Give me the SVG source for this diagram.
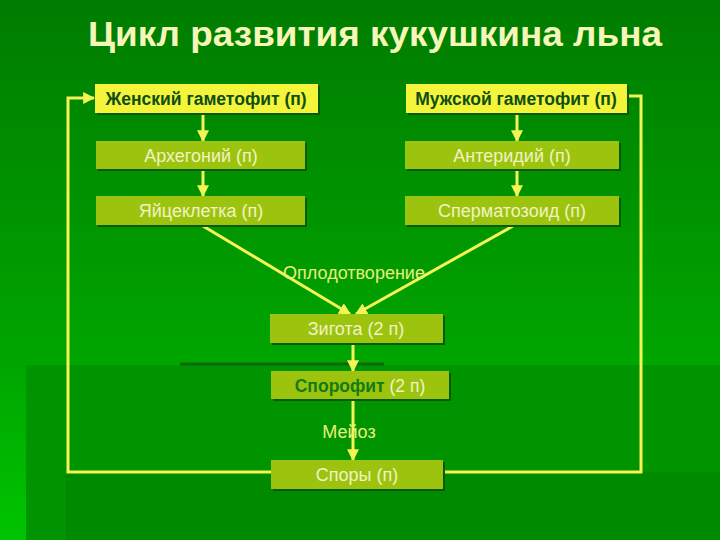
<svg xmlns="http://www.w3.org/2000/svg" width="720" height="540" viewBox="0 0 720 540">
<defs>
<linearGradient id="bg" x1="0" y1="0" x2="0" y2="1">
<stop offset="0" stop-color="#007c00"/>
<stop offset="0.68" stop-color="#00a600"/>
<stop offset="1" stop-color="#00c400"/>
</linearGradient>
<marker id="ah" viewBox="0 0 10 10" refX="9" refY="5" markerWidth="4" markerHeight="4" orient="auto" markerUnits="strokeWidth">
<path d="M0,0 L10,5 L0,10 z" fill="#f4f455"/>
</marker>
</defs>
<style>
.shadow{fill:#0a5a0a;}
.y{fill:#f4f43a;}
.o{fill:#9cc40e;}
.tb{font-family:"Liberation Sans",Arial,sans-serif;font-size:17.5px;font-weight:bold;fill:#0e4e12;text-anchor:middle;}
.tl{font-family:"Liberation Sans",Arial,sans-serif;font-size:18px;fill:#f2f2c4;text-anchor:middle;}
.lab{font-family:"Liberation Sans",Arial,sans-serif;font-size:18px;fill:#e6f07a;text-anchor:middle;}
.c{stroke:#f4f455;stroke-width:3;fill:none;}
</style>
<rect x="0" y="0" width="720" height="540" fill="url(#bg)"/>
<rect x="26" y="365" width="694" height="175" fill="#009400"/>
<rect x="66" y="472" width="654" height="68" fill="#008a00"/>
<line x1="180" y1="364" x2="384" y2="364" stroke="#0a6a0a" stroke-width="3"/>
<text x="375" y="46" font-family="'Liberation Sans',Arial,sans-serif" font-size="35" font-weight="bold" fill="#f6f6b8" text-anchor="middle" textLength="574" lengthAdjust="spacingAndGlyphs">Цикл развития кукушкина льна</text>
<g id="connectors">
<polyline class="c" points="272,472 68,472 68,98 94,98" marker-end="url(#ah)"/>
<polyline class="c" points="444,472 641,472 641,96 627,96"/>
<line class="c" x1="203" y1="113" x2="203" y2="141" marker-end="url(#ah)"/>
<line class="c" x1="203" y1="169" x2="203" y2="196" marker-end="url(#ah)"/>
<line class="c" x1="517" y1="113" x2="517" y2="141" marker-end="url(#ah)"/>
<line class="c" x1="517" y1="169" x2="517" y2="196" marker-end="url(#ah)"/>
<line class="c" x1="203" y1="226" x2="350" y2="314" marker-end="url(#ah)"/>
<line class="c" x1="513" y1="226" x2="356" y2="314" marker-end="url(#ah)"/>
<line class="c" x1="353" y1="343" x2="353" y2="371" marker-end="url(#ah)"/>
<line class="c" x1="353" y1="400" x2="353" y2="460" marker-end="url(#ah)"/>
</g>
<g id="lbl-oplod"><text class="lab" x="354" y="279">Оплодотворение</text></g>
<g id="lbl-meioz"><text class="lab" x="349" y="438">Мейоз</text></g>
<g id="n-female">
<rect class="shadow" x="97" y="86" width="223" height="29"/>
<rect class="y" x="95" y="84" width="223" height="29"/>
<text class="tb" x="206" y="105">Женский гаметофит (п)</text>
</g>
<g id="n-male">
<rect class="shadow" x="408" y="86" width="221" height="29"/>
<rect class="y" x="406" y="84" width="221" height="29"/>
<text class="tb" x="516" y="105">Мужской гаметофит (п)</text>
</g>
<g id="n-arch">
<rect class="shadow" x="98" y="143" width="209" height="28"/>
<rect class="o" x="96" y="141" width="209" height="28"/>
<text class="tl" x="201" y="162">Архегоний (п)</text>
</g>
<g id="n-anther">
<rect class="shadow" x="407" y="143" width="214" height="28"/>
<rect class="o" x="405" y="141" width="214" height="28"/>
<text class="tl" x="512" y="162">Антеридий (п)</text>
</g>
<g id="n-egg">
<rect class="shadow" x="98" y="198" width="209" height="29"/>
<rect class="o" x="96" y="196" width="209" height="29"/>
<text class="tl" x="201" y="217">Яйцеклетка (п)</text>
</g>
<g id="n-sperm">
<rect class="shadow" x="407" y="198" width="214" height="29"/>
<rect class="o" x="405" y="196" width="214" height="29"/>
<text class="tl" x="512" y="217">Сперматозоид (п)</text>
</g>
<g id="n-zygote">
<rect class="shadow" x="272" y="316" width="173" height="29"/>
<rect class="o" x="270" y="314" width="173" height="29"/>
<text class="tl" x="356" y="335">Зигота (2 п)</text>
</g>
<g id="n-sporophyte">
<rect class="shadow" x="273" y="373" width="178" height="28"/>
<rect class="o" x="271" y="371" width="178" height="28"/>
<text x="360" y="392" font-family="'Liberation Sans',Arial,sans-serif" font-size="17.5" text-anchor="middle"><tspan font-weight="bold" fill="#137a16">Спорофит</tspan><tspan fill="#f2f2c4"> (2 п)</tspan></text>
</g>
<g id="n-spores">
<rect class="shadow" x="273" y="462" width="172" height="29"/>
<rect class="o" x="271" y="460" width="172" height="29"/>
<text class="tl" x="357" y="481">Споры (п)</text>
</g>
</svg>
